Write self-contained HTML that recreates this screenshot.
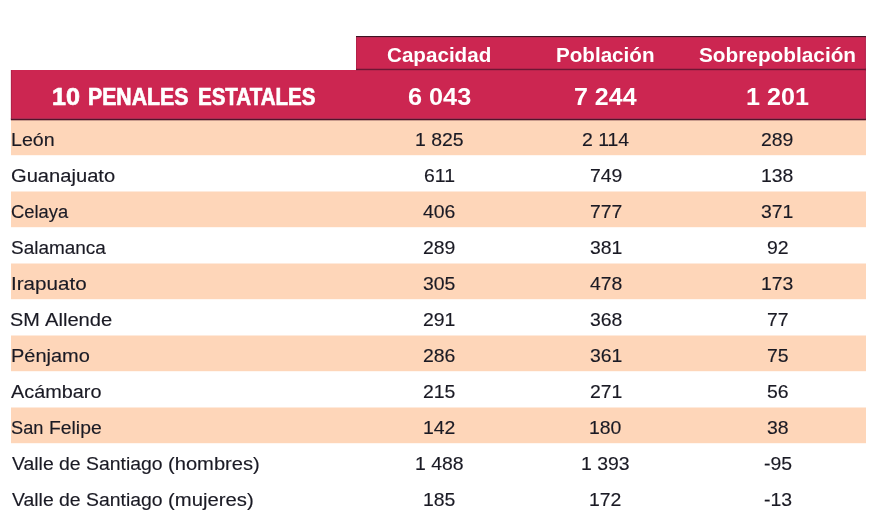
<!DOCTYPE html>
<html lang="es"><head><meta charset="utf-8"><title>10 Penales Estatales</title>
<style>
html,body{margin:0;padding:0;background:#fff}
body{width:872px;height:532px;position:relative;overflow:hidden;font-family:'Liberation Sans', sans-serif}
svg{position:absolute;left:0;top:0}
.g{position:absolute;left:0;top:0;width:0;height:0;font-size:0}
.t{position:absolute;display:block;white-space:pre;line-height:100px;height:100px;transform-origin:0 0}
.h{font-size:20.6px;font-weight:700;color:#fff}
.T{font-size:24.8px;font-weight:700;color:#fff}
.k{-webkit-text-stroke:0.7px #fff}
.d{font-size:18.3px;font-weight:400;color:#1A1A24;-webkit-text-stroke:0.15px #1A1A24}
.n{font-size:18.6px}
</style></head><body>
<svg width="872" height="532" viewBox="0 0 872 532">
<rect x="11" y="120" width="855" height="35.2" fill="#FED6B9"/>
<rect x="11" y="191.5" width="855" height="35.7" fill="#FED6B9"/>
<rect x="11" y="263.5" width="855" height="35.7" fill="#FED6B9"/>
<rect x="11" y="335.5" width="855" height="35.7" fill="#FED6B9"/>
<rect x="11" y="407.5" width="855" height="35.7" fill="#FED6B9"/>
<rect x="356" y="36" width="509.9" height="34" fill="#CC2651"/>
<rect x="10.9" y="70" width="855" height="50" fill="#CC2651"/>
<rect x="356" y="36" width="509.9" height="1" fill="#3E1222"/>
<rect x="356" y="37" width="509.9" height="1" fill="#B42A52"/>
<rect x="356" y="68" width="509.9" height="1" fill="#B2234A"/>
<rect x="356" y="69" width="509.9" height="1" fill="#6E1634"/>
<rect x="356" y="70" width="509.9" height="1" fill="#B8244C"/>
<rect x="10.9" y="118" width="855" height="1" fill="#A82C52"/>
<rect x="10.9" y="119" width="855" height="1.3" fill="#50142A"/>
<rect x="864.9" y="37" width="1" height="82" fill="#7A1838" opacity="0.35"/>
<rect x="10.9" y="70" width="1" height="49" fill="#7A1838" opacity="0.35"/>
<rect x="356" y="37" width="1" height="32" fill="#7A1838" opacity="0.3"/>
</svg>
<div class="t h" style="left:387.30px;top:4.90px;transform:scaleX(1.0013)">Capacidad</div>
<div class="t h" style="left:556.41px;top:4.90px;transform:scaleX(1.0009)">Población</div>
<div class="t h" style="left:699.19px;top:4.90px;transform:scaleX(1.0092)">Sobrepoblación</div>
<div class="g"><span class="t T k" style="left:52.41px;top:46.80px;transform:scaleX(1.0131)">10</span> <span class="t T k" style="left:88.26px;top:46.80px;transform:scaleX(0.8570)">PENALES</span> <span class="t T k" style="left:197.90px;top:46.80px;transform:scaleX(0.8269)">ESTATALES</span></div>
<div class="t T" style="left:407.58px;top:46.80px;transform:scaleX(1.0183)">6 043</div>
<div class="t T" style="left:574.41px;top:46.80px;transform:scaleX(1.0080)">7 244</div>
<div class="t T" style="left:745.91px;top:46.80px;transform:scaleX(1.0138)">1 201</div>
<div class="t d" style="left:10.86px;top:89.80px;transform:scaleX(1.0728)">León</div>
<div class="t d n" style="left:414.57px;top:89.80px;transform:scaleX(1.0450)">1 825</div>
<div class="t d n" style="left:582.27px;top:89.80px;transform:scaleX(1.0450)">2 114</div>
<div class="t d n" style="left:761.36px;top:89.80px;transform:scaleX(1.0450)">289</div>
<div class="t d" style="left:10.80px;top:125.80px;transform:scaleX(1.1020)">Guanajuato</div>
<div class="t d n" style="left:423.67px;top:125.80px;transform:scaleX(1.0450)">611</div>
<div class="t d n" style="left:589.74px;top:125.80px;transform:scaleX(1.0450)">749</div>
<div class="t d n" style="left:761.04px;top:125.80px;transform:scaleX(1.0450)">138</div>
<div class="t d" style="left:10.88px;top:161.80px;transform:scaleX(1.0047)">Celaya</div>
<div class="t d n" style="left:423.16px;top:161.80px;transform:scaleX(1.0450)">406</div>
<div class="t d n" style="left:589.74px;top:161.80px;transform:scaleX(1.0450)">777</div>
<div class="t d n" style="left:761.34px;top:161.80px;transform:scaleX(1.0450)">371</div>
<div class="t d" style="left:10.53px;top:197.80px;transform:scaleX(1.0367)">Salamanca</div>
<div class="t d n" style="left:422.96px;top:197.80px;transform:scaleX(1.0450)">289</div>
<div class="t d n" style="left:589.74px;top:197.80px;transform:scaleX(1.0450)">381</div>
<div class="t d n" style="left:766.87px;top:197.80px;transform:scaleX(1.0450)">92</div>
<div class="t d" style="left:10.61px;top:233.80px;transform:scaleX(1.1271)">Irapuato</div>
<div class="t d n" style="left:422.91px;top:233.80px;transform:scaleX(1.0450)">305</div>
<div class="t d n" style="left:589.96px;top:233.80px;transform:scaleX(1.0450)">478</div>
<div class="t d n" style="left:761.04px;top:233.80px;transform:scaleX(1.0450)">173</div>
<div class="g"><span class="t d" style="left:10.47px;top:269.80px;transform:scaleX(1.0863)">SM</span> <span class="t d" style="left:45.38px;top:269.80px;transform:scaleX(1.1021)">Allende</span></div>
<div class="t d n" style="left:422.94px;top:269.80px;transform:scaleX(1.0450)">291</div>
<div class="t d n" style="left:589.73px;top:269.80px;transform:scaleX(1.0450)">368</div>
<div class="t d n" style="left:766.87px;top:269.80px;transform:scaleX(1.0450)">77</div>
<div class="t d" style="left:10.84px;top:305.80px;transform:scaleX(1.0926)">Pénjamo</div>
<div class="t d n" style="left:422.93px;top:305.80px;transform:scaleX(1.0450)">286</div>
<div class="t d n" style="left:589.74px;top:305.80px;transform:scaleX(1.0450)">361</div>
<div class="t d n" style="left:766.84px;top:305.80px;transform:scaleX(1.0450)">75</div>
<div class="t d" style="left:11.48px;top:341.80px;transform:scaleX(1.0856)">Acámbaro</div>
<div class="t d n" style="left:422.92px;top:341.80px;transform:scaleX(1.0450)">215</div>
<div class="t d n" style="left:589.74px;top:341.80px;transform:scaleX(1.0450)">271</div>
<div class="t d n" style="left:766.85px;top:341.80px;transform:scaleX(1.0450)">56</div>
<div class="g"><span class="t d" style="left:10.58px;top:377.80px;transform:scaleX(0.9959)">San</span> <span class="t d" style="left:48.69px;top:377.80px;transform:scaleX(1.0576)">Felipe</span></div>
<div class="t d n" style="left:422.66px;top:377.80px;transform:scaleX(1.0450)">142</div>
<div class="t d n" style="left:589.38px;top:377.80px;transform:scaleX(1.0450)">180</div>
<div class="t d n" style="left:766.86px;top:377.80px;transform:scaleX(1.0450)">38</div>
<div class="g"><span class="t d" style="left:11.75px;top:413.80px;transform:scaleX(1.0609)">Valle</span> <span class="t d" style="left:58.97px;top:413.80px;transform:scaleX(1.0629)">de</span> <span class="t d" style="left:85.50px;top:413.80px;transform:scaleX(1.0609)">Santiago</span> <span class="t d" style="left:168.23px;top:413.80px;transform:scaleX(1.1016)">(hombres)</span></div>
<div class="t d n" style="left:414.59px;top:413.80px;transform:scaleX(1.0450)">1 488</div>
<div class="t d n" style="left:581.38px;top:413.80px;transform:scaleX(1.0450)">1 393</div>
<div class="t d n" style="left:763.66px;top:413.80px;transform:scaleX(1.0450)">-95</div>
<div class="g"><span class="t d" style="left:11.75px;top:449.80px;transform:scaleX(1.0609)">Valle</span> <span class="t d" style="left:58.97px;top:449.80px;transform:scaleX(1.0629)">de</span> <span class="t d" style="left:85.50px;top:449.80px;transform:scaleX(1.0609)">Santiago</span> <span class="t d" style="left:168.22px;top:449.80px;transform:scaleX(1.1100)">(mujeres)</span></div>
<div class="t d n" style="left:422.62px;top:449.80px;transform:scaleX(1.0450)">185</div>
<div class="t d n" style="left:589.46px;top:449.80px;transform:scaleX(1.0450)">172</div>
<div class="t d n" style="left:763.66px;top:449.80px;transform:scaleX(1.0450)">-13</div>
</body></html>
